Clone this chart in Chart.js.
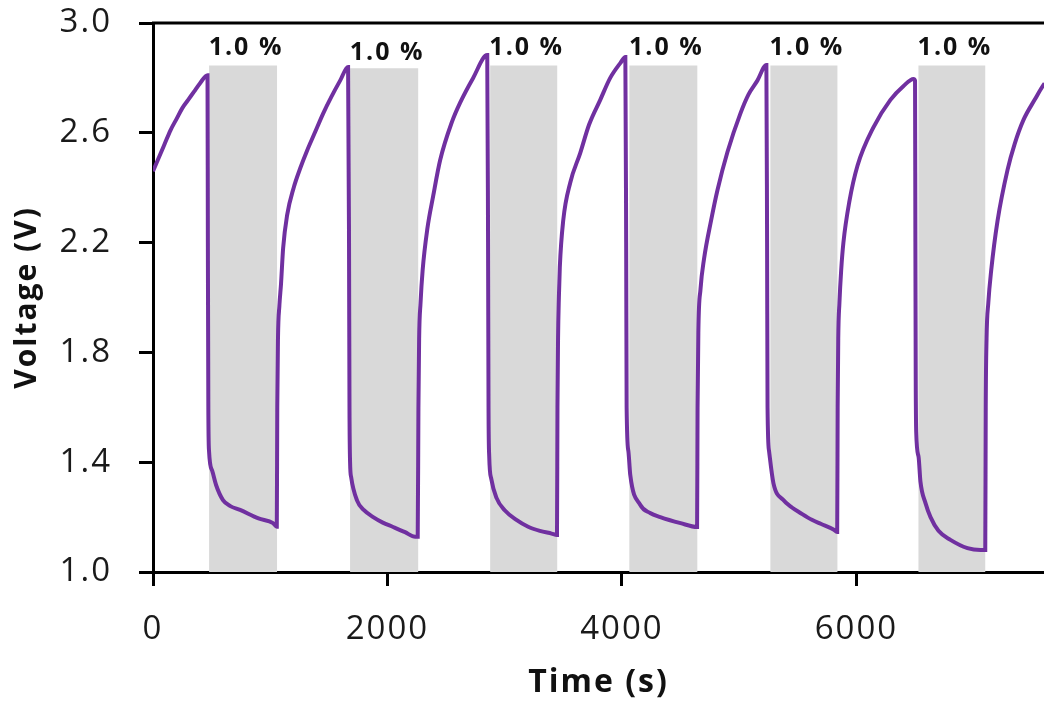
<!DOCTYPE html>
<html>
<head>
<meta charset="utf-8">
<script src="https://cdn.jsdelivr.net/npm/chart.js@4"></script>
<style>
  html, body { margin: 0; padding: 0; background: #fff; }
</style>
</head>
<body>
<canvas id="chart" width="1044" height="708"></canvas>
<script>
// time (s) and voltage (V)
const timeS = [
  0, 50, 100, 150, 200, 250, 300, 350, 400, 465,
  468, 472, 478, 504, 538, 597, 660, 743, 900, 1024, 1056,
  1060, 1066, 1078, 1092, 1110, 1144, 1200, 1255, 1314, 1380, 1451, 1520, 1596, 1664,
  1672, 1676, 1681, 1690, 1741, 1800, 1878, 1960, 2048, 2150, 2236, 2258,
  2264, 2270, 2282, 2300, 2340, 2390, 2449, 2550, 2620, 2731, 2851,
  2858, 2862, 2868, 2885, 2930, 3000, 3100, 3200, 3300, 3400, 3446,
  3450, 3455, 3462, 3470, 3499, 3560, 3644, 3720, 3815, 3900, 3986, 4029,
  4036, 4040, 4055, 4071, 4157, 4240, 4327, 4500, 4641,
  4645, 4652, 4670, 4700, 4760, 4814, 4900, 5010, 5080, 5155, 5232,
  5238, 5242, 5255, 5292, 5377, 5450, 5522, 5620, 5700, 5804, 5836,
  5840, 5845, 5855, 5870, 5889, 5940, 6009, 6145, 6290, 6400, 6487,
  6500, 6503, 6506, 6510, 6530, 6546, 6590, 6632, 6700, 6802, 6947, 7058, 7099,
  7103, 7110, 7125, 7150, 7204, 7289, 7350, 7425, 7520, 7605, 7700
];
const voltageV = [
  2.46, 2.51, 2.56, 2.61, 2.65, 2.69, 2.72, 2.75, 2.78, 2.81,
  2.2, 1.6, 1.44, 1.37, 1.317, 1.262, 1.24, 1.226, 1.195, 1.178, 1.165,
  1.6, 1.85, 1.97, 2.05, 2.18, 2.3, 2.4, 2.47, 2.535, 2.6, 2.67, 2.73, 2.79, 2.84,
  2.2, 1.6, 1.4, 1.346, 1.26, 1.225, 1.2, 1.18, 1.164, 1.145, 1.128, 1.128,
  1.6, 1.85, 1.98, 2.1, 2.25, 2.37, 2.5, 2.64, 2.71, 2.8, 2.883,
  2.2, 1.6, 1.42, 1.34, 1.27, 1.225, 1.19, 1.165, 1.15, 1.14, 1.135,
  1.6, 1.85, 2.0, 2.11, 2.28, 2.42, 2.526, 2.63, 2.72, 2.8, 2.854, 2.876,
  2.2, 1.6, 1.44, 1.353, 1.244, 1.215, 1.2, 1.178, 1.164,
  1.6, 1.88, 2.03, 2.14, 2.28, 2.39, 2.53, 2.67, 2.74, 2.79, 2.847,
  2.2, 1.6, 1.44, 1.324, 1.262, 1.235, 1.215, 1.19, 1.175, 1.155, 1.146,
  1.6, 1.85, 1.98, 2.1, 2.2, 2.35, 2.48, 2.62, 2.72, 2.77, 2.796,
  2.79, 2.2, 1.7, 1.51, 1.42, 1.33, 1.25, 1.2, 1.15, 1.117, 1.087, 1.08, 1.08,
  1.6, 1.85, 1.98, 2.1, 2.28, 2.465, 2.56, 2.647, 2.72, 2.78, 2.82
];

// shaded pulses
const pulseStart = [478, 1681, 2876, 4063, 5266, 6529];
const pulseEnd = [1058, 2262, 3448, 4643, 5838, 7101];
const pulseTop = [2.845, 2.835, 2.845, 2.845, 2.845, 2.845];
const pulseLabel = ["1.0 %", "1.0 %", "1.0 %", "1.0 %", "1.0 %", "1.0 %"];
const pulseLabelV = [2.91, 2.89, 2.91, 2.91, 2.91, 2.91];

const xTicks = [0, 2000, 4000, 6000];
const yTicks = [1.0, 1.4, 1.8, 2.2, 2.6, 3.0];

const FONT = '"Open Sans", sans-serif';
const SPACING = "2px"; // the source figure is stretched sideways

const traceData = timeS.map((t, i) => ({ x: t, y: voltageV[i] }));

const bandData = [];
pulseStart.forEach((s, i) => {
  bandData.push({ x: s, y: 1.0 }, { x: s, y: pulseTop[i] }, { x: pulseEnd[i], y: pulseTop[i] }, { x: pulseEnd[i], y: 1.0 });
});

const spacing = {
  id: "spacing",
  beforeLayout(chart) { chart.ctx.letterSpacing = SPACING; },
  beforeDraw(chart) { chart.ctx.letterSpacing = SPACING; }
};

const overlay = {
  id: "overlay",
  afterDatasetsDraw(chart) {
    const { ctx, chartArea, scales } = chart;
    ctx.save();
    ctx.strokeStyle = "#000";
    ctx.lineWidth = 3;
    ctx.beginPath();
    ctx.moveTo(chartArea.left - 1, chartArea.top);
    ctx.lineTo(chartArea.right, chartArea.top);
    ctx.stroke();

    ctx.font = "bold 25px " + FONT;
    ctx.fillStyle = "#111";
    ctx.textAlign = "center";
    ctx.textBaseline = "middle";
    pulseLabel.forEach((txt, i) => {
      const x = scales.x.getPixelForValue((pulseStart[i] + pulseEnd[i]) / 2) + 3;
      const y = scales.y.getPixelForValue(pulseLabelV[i]);
      ctx.fillText(txt, x, y);
    });
    ctx.restore();
  }
};

new Chart(document.getElementById("chart"), {
  type: "line",
  data: {
    datasets: [
      {
        label: "Voltage",
        data: traceData,
        borderColor: "#7030A0",
        borderWidth: 4,
        pointRadius: 0,
        cubicInterpolationMode: "monotone",
        fill: false,
        order: 1
      },
      {
        label: "Pulse",
        data: bandData,
        borderWidth: 0,
        borderColor: "rgba(0,0,0,0)",
        backgroundColor: "#D9D9D9",
        pointRadius: 0,
        tension: 0,
        fill: "start",
        order: 2
      }
    ]
  },
  options: {
    responsive: false,
    animation: false,
    layout: { padding: { top: 23, right: 0, bottom: 0, left: 0 } },
    plugins: {
      legend: { display: false },
      tooltip: { enabled: false }
    },
    scales: {
      x: {
        type: "linear",
        min: 0,
        max: 7600,
        afterBuildTicks: (s) => { s.ticks = xTicks.map((v) => ({ value: v })); },
        afterFit: (s) => { s.height = 136; s.paddingLeft = 0; s.paddingRight = 0; },
        border: { color: "#000", width: 3 },
        grid: { drawOnChartArea: false, drawTicks: true, tickLength: 14, tickWidth: 3, tickColor: "#000" },
        ticks: {
          font: { family: FONT, size: 33 },
          color: "#1a1a1a",
          padding: 24,
          maxRotation: 0,
          callback: (v) => String(v)
        },
        title: {
          display: true,
          text: "Time (s)",
          color: "#111",
          font: { family: FONT, size: 32, weight: "bold" },
          padding: { top: 0, bottom: 6 }
        }
      },
      y: {
        min: 1.0,
        max: 3.0,
        afterBuildTicks: (s) => { s.ticks = yTicks.map((v) => ({ value: v })); },
        afterFit: (s) => { s.width = 153; s.paddingTop = 0; s.paddingBottom = 0; },
        border: { color: "#000", width: 3 },
        grid: { drawOnChartArea: false, drawTicks: true, tickLength: 14, tickWidth: 3, tickColor: "#000" },
        ticks: {
          font: { family: FONT, size: 33 },
          color: "#1a1a1a",
          padding: 27,
          callback: (v) => Number(v).toFixed(1)
        },
        title: {
          display: true,
          text: "Voltage (V)",
          color: "#111",
          font: { family: FONT, size: 30, weight: "bold" },
          padding: { top: 9, bottom: 0 }
        }
      }
    }
  },
  plugins: [spacing, overlay]
});
</script>
</body>
</html>
